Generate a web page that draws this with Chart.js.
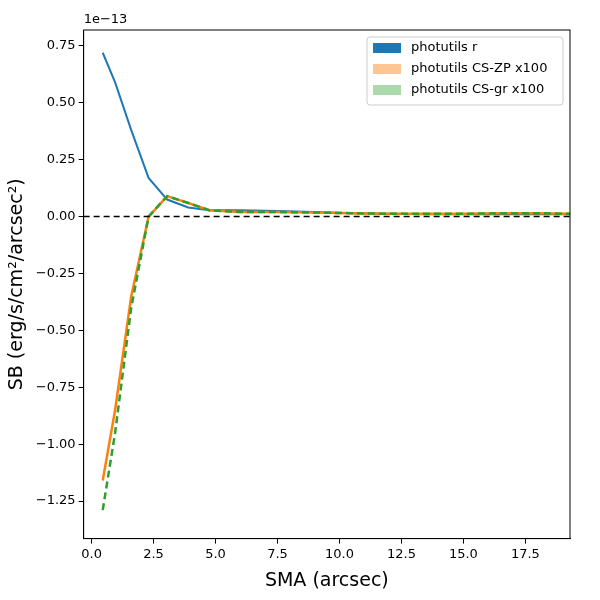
<!DOCTYPE html>
<html>
<head>
<script src="https://cdn.jsdelivr.net/npm/chart.js@4/dist/chart.umd.min.js"></script>
<style>body{margin:0;background:#fff}#c{width:600px;height:600px}</style>
</head>
<body>
<div id="c"><canvas id="sb"></canvas></div>
<script>
const sma = [0.45, 0.95, 1.6, 2.3, 3.05, 3.9, 4.75, 6.0, 7.5, 9.0, 10.5, 12.0, 13.5, 15.0, 16.5, 18.0, 19.5];
const photR = [0.72, 0.59, 0.38, 0.17, 0.075, 0.04, 0.028, 0.028, 0.025, 0.02, 0.015, 0.012, 0.01, 0.01, 0.01, 0.01, 0.01];
const csZP = [-1.16, -0.85, -0.35, 0.0, 0.09, 0.06, 0.028, 0.02, 0.02, 0.018, 0.015, 0.012, 0.012, 0.012, 0.015, 0.015, 0.012];
const csGR = [-1.29, -0.95, -0.40, 0.0, 0.09, 0.06, 0.028, 0.02, 0.02, 0.018, 0.015, 0.012, 0.012, 0.012, 0.015, 0.015, 0.012];

function pts(arr) { return sma.map((x, i) => ({ x: x, y: arr[i] })) }

const extras = {
  id: 'extras',
  afterDraw(chart) {
    const c = chart.ctx, a = chart.chartArea, y = chart.scales.y;
    c.save();
    // zero line
    c.strokeStyle = '#000'; c.lineWidth = 1.5; c.setLineDash([6, 4]);
    c.beginPath(); c.moveTo(a.left, y.getPixelForValue(0)); c.lineTo(a.right, y.getPixelForValue(0)); c.stroke();
    c.setLineDash([]);
    // frame
    c.lineWidth = 1; c.strokeRect(a.left, a.top, a.right - a.left, a.bottom - a.top);
    // offset text
    c.fillStyle = '#000'; c.font = '13px "DejaVu Sans"'; c.textBaseline = 'bottom';
    c.fillText('1e\u221213', a.left, a.top - 4);
    // legend
    const items = [['photutils r', '#1f77b4'], ['photutils CS-ZP x100', 'rgba(255,127,14,0.45)'], ['photutils CS-gr x100', 'rgba(44,160,44,0.4)']];
    const lx = 367, ly = 37, lw = 196, lh = 68;
    c.fillStyle = 'rgba(255,255,255,0.85)'; c.strokeStyle = '#ccc';
    c.beginPath(); c.roundRect(lx, ly, lw, lh, 3); c.fill(); c.stroke();
    c.textBaseline = 'middle';
    items.forEach((it, i) => {
      const yy = ly + 11 + i * 21;
      c.fillStyle = it[1]; c.fillRect(lx + 6, yy - 5, 28, 10);
      c.fillStyle = '#000'; c.fillText(it[0], lx + 44, yy);
    });
    c.restore();
  }
};

new Chart(document.getElementById('sb').getContext('2d'), {
  type: 'line',
  data: {
    datasets: [
      { label: 'photutils r', data: pts(photR), borderColor: '#1f77b4', borderWidth: 2, pointRadius: 0, tension: 0, order: 2 },
      { label: 'photutils CS-ZP x100', data: pts(csZP), borderColor: '#ff7f0e', borderWidth: 2.5, pointRadius: 0, tension: 0, order: 1 },
      { label: 'photutils CS-gr x100', data: pts(csGR), borderColor: '#2ca02c', borderWidth: 2.5, borderDash: [7, 4], pointRadius: 0, tension: 0, order: 0 }
    ]
  },
  options: {
    responsive: true, maintainAspectRatio: false, animation: false,
    layout: { padding: { left: 2, right: 30, top: 30, bottom: 4 } },
    plugins: { legend: { display: false }, tooltip: { enabled: false } },
    scales: {
      x: {
        type: 'linear', min: -0.32, max: 19.3,
        afterBuildTicks: s => { s.ticks = [0, 2.5, 5, 7.5, 10, 12.5, 15, 17.5].map(v => ({ value: v })) },
        ticks: { color: '#000', font: { size: 13, family: 'DejaVu Sans' }, padding: 3, callback: v => v.toFixed(1) },
        grid: { drawOnChartArea: false, drawTicks: true, color: '#000', tickLength: 5 },
        border: { color: '#000' },
        title: { display: true, text: 'SMA (arcsec)', color: '#000', font: { size: 19, family: 'DejaVu Sans' } }
      },
      y: {
        min: -1.415, max: 0.82,
        afterBuildTicks: s => { s.ticks = [-1.25, -1, -0.75, -0.5, -0.25, 0, 0.25, 0.5, 0.75].map(v => ({ value: v })) },
        ticks: { color: '#000', font: { size: 13, family: 'DejaVu Sans' }, padding: 3, callback: v => v.toFixed(2).replace('-', '\u2212') },
        grid: { drawOnChartArea: false, drawTicks: true, color: '#000', tickLength: 5 },
        border: { color: '#000' },
        title: { display: true, text: 'SB (erg/s/cm\u00b2/arcsec\u00b2)', color: '#000', font: { size: 19, family: 'DejaVu Sans' } }
      }
    }
  },
  plugins: [extras]
});
</script>
</body>
</html>
